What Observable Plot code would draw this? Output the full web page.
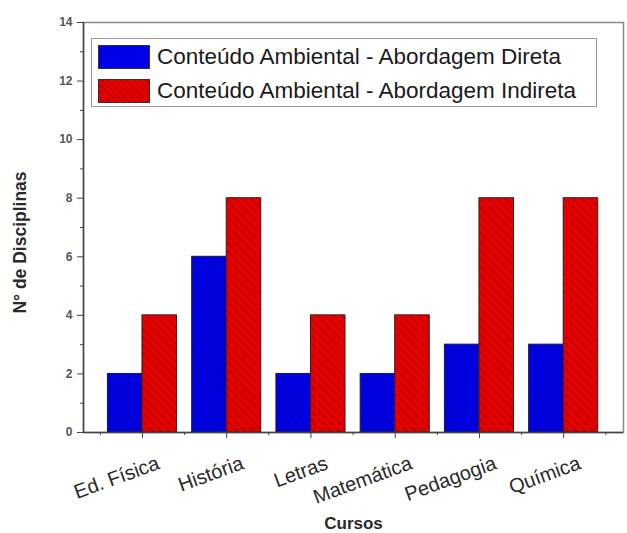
<!DOCTYPE html>
<html>
<head>
<meta charset="utf-8">
<script src="https://cdn.jsdelivr.net/npm/d3@7"></script>
<script src="https://cdn.jsdelivr.net/npm/@observablehq/plot@0.6"></script>
<style>
  html, body { margin: 0; padding: 0; background: #fff; }
  #wrap { position: relative; width: 627px; height: 533px; font-family: "Liberation Sans", Arial, sans-serif; }
  #legend { position: absolute; left: 91px; top: 38px; width: 506px; height: 69px; border: 1px solid #9a9a9a; background: #fff; box-sizing: border-box; }
  .item { position: absolute; left: 6px; display: flex; align-items: center; font-size: 22.5px; color: #1a1a1a; white-space: nowrap; }
  .sw { width: 52px; height: 24px; margin-right: 7px; box-sizing: border-box; border: 1px solid #333; }
</style>
</head>
<body>
<div id="wrap"></div>
<script>
const cursos = ["Ed. Física", "História", "Letras", "Matemática", "Pedagogia", "Química"];
const direta = [2, 6, 2, 2, 3, 3];
const indireta = [4, 8, 4, 4, 8, 8];
const yMajor = [0, 2, 4, 6, 8, 10, 12, 14];
const yMinor = [1, 3, 5, 7, 9, 11, 13];
const xMinor = [0.5, 1.5, 2.5, 3.5, 4.5, 5.5, 6.5];
const seriesNames = ["Conteúdo Ambiental - Abordagem Direta", "Conteúdo Ambiental - Abordagem Indireta"];
const seriesColors = ["#0000e6", "#e60000"];

const rows = cursos.map((c, k) => ({i: k + 1, curso: c, direta: direta[k], indireta: indireta[k]}));
const bw = 0.41;

const chart = Plot.plot({
  width: 627,
  height: 533,
  marginLeft: 83,
  marginRight: 4,
  marginTop: 22,
  marginBottom: 101,
  style: {fontFamily: "Liberation Sans, Arial, sans-serif", background: "#fff"},
  x: {type: "linear", domain: [0.30, 6.71], axis: null},
  y: {domain: [0, 14], axis: null},
  marks: [
    Plot.frame({stroke: "#8a8a8a", strokeWidth: 1.5}),
    Plot.rectY(rows, {x1: d => d.i - bw, x2: d => d.i, y1: 0, y2: "direta", fill: "url(#hatchBlue)", stroke: "#1a1a40", strokeWidth: 1}),
    Plot.rectY(rows, {x1: d => d.i, x2: d => d.i + bw, y1: 0, y2: "indireta", fill: "url(#hatchRed)", stroke: "#401a1a", strokeWidth: 1}),
    Plot.ruleX([0.30], {stroke: "#444", strokeWidth: 1.5}),
    Plot.ruleY([0], {stroke: "#444", strokeWidth: 1.5}),
    Plot.axisY(yMajor, {tickSize: 6, tickPadding: 5, fontSize: 12, fontWeight: "bold", fill: "#555", stroke: "#444", label: null}),
    Plot.axisY(yMinor, {tickSize: 3, stroke: "#444", tickFormat: () => "", label: null}),
    Plot.axisX(rows.map(d => d.i), {tickSize: 6, stroke: "#444", tickFormat: () => "", label: null}),
    Plot.axisX(xMinor, {tickSize: 3, stroke: "#444", tickFormat: () => "", label: null}),
    Plot.text(rows, {x: "i", y: () => 0, text: "curso", textAnchor: "end", rotate: -20, dx: 16, dy: 30, fontSize: 20, fill: "#2a2a2a"}),
    Plot.text(["Cursos"], {frameAnchor: "bottom", dy: 96, text: d => d, fontSize: 17, fontWeight: "bold", fill: "#2a2a2a", lineAnchor: "bottom"}),
    Plot.text(["N° de Disciplinas"], {frameAnchor: "left", textAnchor: "middle", dx: -63, dy: 15, rotate: -90, text: d => d, fontSize: 17.5, fontWeight: "bold", fill: "#2a2a2a"})
  ]
});

const svg = d3.select(chart);
const defs = svg.insert("defs", ":first-child");
function hatch(id, base, line) {
  const p = defs.append("pattern").attr("id", id).attr("patternUnits", "userSpaceOnUse")
    .attr("width", 6).attr("height", 6).attr("patternTransform", "rotate(-45)");
  p.append("rect").attr("width", 6).attr("height", 6).attr("fill", base);
  p.append("rect").attr("width", 1.6).attr("height", 6).attr("fill", line);
}
hatch("hatchBlue", "#0000e6", "#0000c4");
hatch("hatchRed", "#e60000", "#bf0000");

document.getElementById("wrap").appendChild(chart);

const legend = document.createElement("div");
legend.id = "legend";
seriesNames.forEach((name, k) => {
  const item = document.createElement("div");
  item.className = "item";
  item.style.top = (k === 0 ? 5 : 39) + "px";
  const sw = document.createElement("span");
  sw.className = "sw";
  sw.style.background = seriesColors[k];
  if (k === 1) sw.style.backgroundImage = "repeating-linear-gradient(45deg, #e60000 0 3px, #bf0000 3px 4.5px)";
  const t = document.createElement("span");
  t.textContent = name;
  item.appendChild(sw);
  item.appendChild(t);
  legend.appendChild(item);
});
document.getElementById("wrap").appendChild(legend);
</script>
</body>
</html>
